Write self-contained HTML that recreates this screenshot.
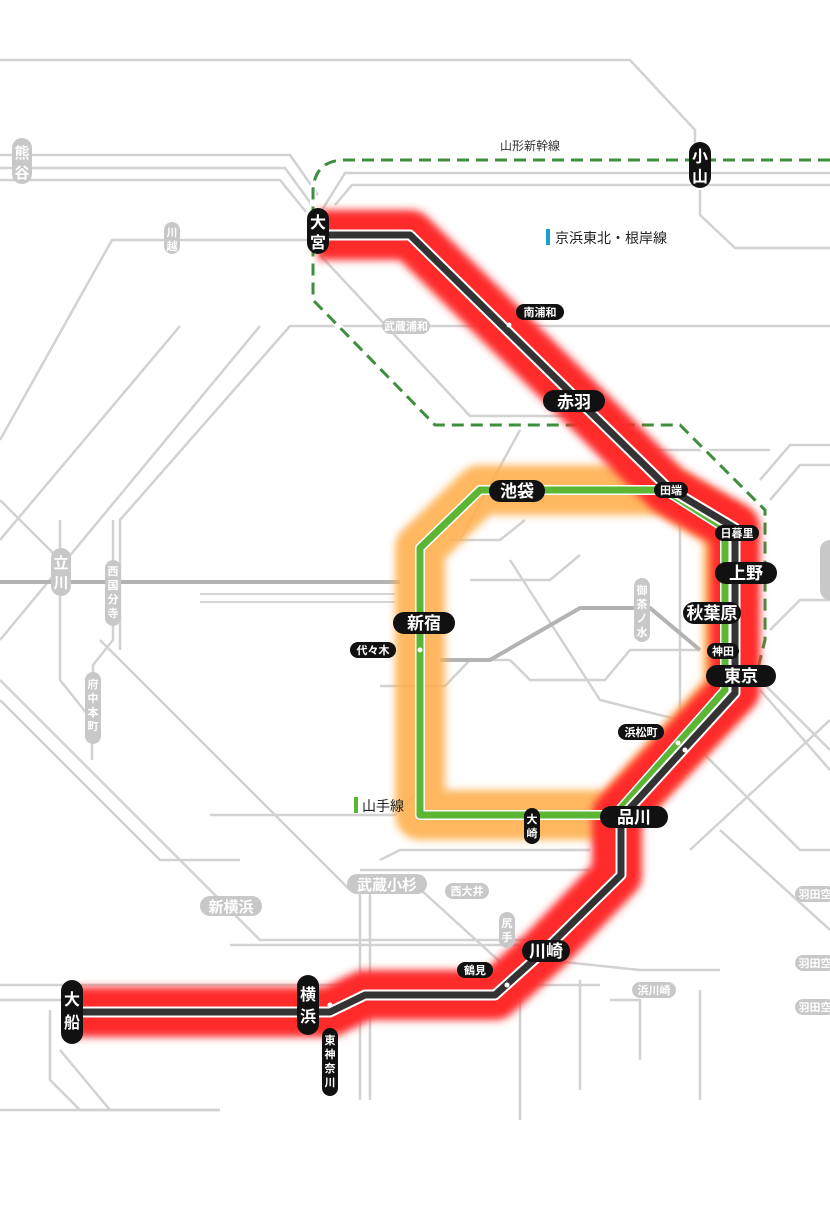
<!DOCTYPE html>
<html><head><meta charset="utf-8"><style>
html,body{margin:0;padding:0;background:#fff;}
svg text{font-family:"Liberation Sans","Noto Sans CJK JP",sans-serif;font-weight:bold;}
</style></head><body>
<svg width="830" height="1200" viewBox="0 0 830 1200" xmlns="http://www.w3.org/2000/svg">
<defs>
<filter id="blur" x="-20%" y="-20%" width="140%" height="140%"><feGaussianBlur stdDeviation="4"/></filter>
</defs>
<rect width="830" height="1200" fill="#fff"/>
<g fill="none" stroke="#d2d2d2" stroke-width="2.5" stroke-linejoin="round">
<path d="M0 60 H630 L695 130 V150"/>
<path d="M0 155 H290 L318 195"/>
<path d="M0 168 H285 L312 205"/>
<path d="M0 180 H280 L306 212"/>
<path d="M335 205 L352 185 H830"/>
<path d="M322 210 L345 173 H830"/>
<path d="M700 190 V215 L735 248 H830"/>
<path d="M0 440 L112 240 H310"/>
<path d="M320 255 L470 416 H600"/>
<path d="M120 650 V520 L290 326 H830"/>
<path d="M0 540 L180 326"/>
<path d="M0 640 L260 326"/>
<path d="M0 680 L260 940 H560"/>
<path d="M0 500 L60 560"/>
<path d="M60 520 V680 L92 720 V760"/>
<path d="M113 520 V640 L93 665 V740"/>
<path d="M0 700 L160 860 H240"/>
<path d="M100 640 L350 890"/>
<path d="M210 815 H395 L420 790"/>
<path d="M380 686 H445 L470 660 H510"/>
<path d="M450 540 H500 L525 520"/>
<path d="M470 580 H550 L580 555"/>
<path d="M510 660 L530 680 H605 L630 650 H700"/>
<path d="M510 560 L600 700 L680 720"/>
<path d="M460 540 L520 430"/>
<path d="M680 520 V720"/>
<path d="M600 450 H770"/>
<path d="M760 480 L790 445 H830"/>
<path d="M770 500 L800 465 H830"/>
<path d="M770 630 L800 600 H830"/>
<path d="M760 680 L830 750"/>
<path d="M760 690 L830 770"/>
<path d="M690 850 L830 720"/>
<path d="M700 750 L800 850 H830"/>
<path d="M720 830 L830 930"/>
<path d="M560 850 H590"/>
<path d="M360 870 H590"/>
<path d="M370 880 V1100"/>
<path d="M360 890 V1100"/>
<path d="M380 860 L400 850 H590"/>
<path d="M410 880 L520 980"/>
<path d="M0 985 H600"/>
<path d="M0 1000 H300"/>
<path d="M230 945 H520"/>
<path d="M50 1010 V1080 L80 1110 H220"/>
<path d="M60 1050 L110 1110"/>
<path d="M520 1000 V1120"/>
<path d="M580 980 V1090"/>
<path d="M610 1000 H640 V1060"/>
<path d="M545 960 L640 970 H720"/>
<path d="M700 990 V1100"/>
<path d="M0 1110 H220"/>
</g>
<g fill="none" stroke="#b3b3b3" stroke-width="4">
<path d="M0 582 H400"/>
<path d="M440 660 H490 L580 608 H650 L700 650"/>
</g>
<g fill="none" stroke="#d6d6d6" stroke-width="2">
<path d="M200 594 H395"/><path d="M200 602 H395"/>
</g>
<path d="M830 160 H345 Q315 160 313 190 V300 L435 425 H680 L765 510 V640 L758 668" fill="none" stroke="#fff" stroke-width="6"/>
<path d="M830 160 H345 Q315 160 313 190 V300 L435 425 H680 L765 510 V640 L758 668" fill="none" stroke="#3d8f3d" stroke-width="3" stroke-dasharray="12 7"/>
<path d="M480 490 H665 L728 528 V690 L615 815 H420 V548 Z" fill="none" stroke="#ffb050" stroke-width="50" stroke-linejoin="round" filter="url(#blur)" opacity="0.9"/>
<path d="M318 235 H410 L578 400 L668 490 L735 528 V690 L617 815 V875 L545 950 L495 995 H365 L330 1012 H72" fill="none" stroke="#ff2a2a" stroke-width="50" stroke-linejoin="round" filter="url(#blur)"/>
<path d="M480 490 H665 L725 528 V690 L615 815 H420 V548 Z" fill="none" stroke="#fff" stroke-width="10" stroke-linejoin="round"/>
<path d="M480 490 H665 L725 528 V690 L615 815 H420 V548 Z" fill="none" stroke="#5db534" stroke-width="7" stroke-linejoin="round"/>
<path d="M318 235 H410 L578 400 L668 488 L735 528 V693 L621 818 V875 L545 950 L495 995 H365 L330 1012 H72" fill="none" stroke="#fff" stroke-width="11" stroke-linejoin="round"/>
<path d="M318 235 H410 L578 400 L668 488 L735 528 V693 L621 818 V875 L545 950 L495 995 H365 L330 1012 H72" fill="none" stroke="#333" stroke-width="7" stroke-linejoin="round"/>
<g fill="#fff"><circle cx="509" cy="325" r="2.5"/><circle cx="420" cy="650" r="2.5"/><circle cx="678" cy="743" r="2.5"/><circle cx="685" cy="750" r="2.5"/><circle cx="507" cy="985" r="2.5"/><circle cx="330" cy="1005" r="2.5"/></g>
<g fill="#111">
<rect x="307" y="208" width="22" height="46" rx="11"/>
<rect x="689" y="142" width="22" height="46" rx="11"/>
<rect x="543" y="390" width="62" height="22" rx="11"/>
<rect x="489" y="480" width="56" height="22" rx="11"/>
<rect x="715" y="562" width="62" height="22" rx="11"/>
<rect x="706" y="665" width="70" height="22" rx="11"/>
<rect x="393" y="612" width="62" height="22" rx="11"/>
<rect x="600" y="806" width="68" height="22" rx="11"/>
<rect x="522" y="940" width="48" height="22" rx="11"/>
<rect x="297" y="975" width="22" height="60" rx="11"/>
<rect x="61" y="980" width="22" height="64" rx="11"/>
<rect x="683" y="602" width="58" height="22" rx="11"/>
</g>
<g fill="#111">
<rect x="516" y="304" width="48" height="16" rx="8"/>
<rect x="654" y="482" width="34" height="16" rx="8"/>
<rect x="715" y="525" width="44" height="16" rx="8"/>
<rect x="707" y="643" width="32" height="16" rx="8"/>
<rect x="350" y="642" width="46" height="16" rx="8"/>
<rect x="618" y="724" width="46" height="16" rx="8"/>
<rect x="524" y="808" width="16" height="36" rx="8"/>
<rect x="457" y="962" width="36" height="16" rx="8"/>
<rect x="322" y="1028" width="16" height="68" rx="8"/>
</g>
<g fill="#fff" font-size="17" text-anchor="middle">
<text x="574" y="408">赤羽</text>
<text x="517" y="497">池袋</text>
<text x="746" y="579">上野</text>
<text x="741" y="682">東京</text>
<text x="424" y="629">新宿</text>
<text x="634" y="823">品川</text>
<text x="546" y="957">川崎</text>
<text x="712" y="619">秋葉原</text>
</g>
<g fill="#fff" font-size="16" text-anchor="middle">
<text x="318" y="228">大</text><text x="318" y="248">宮</text>
<text x="700" y="162">小</text><text x="700" y="182">山</text>
<text x="308" y="1000">横</text><text x="308" y="1022">浜</text>
<text x="72" y="1005">大</text><text x="72" y="1028">船</text>
</g>
<g fill="#fff" font-size="11" text-anchor="middle">
<text x="540" y="316">南浦和</text>
<text x="671" y="494">田端</text>
<text x="737" y="537">日暮里</text>
<text x="723" y="655">神田</text>
<text x="373" y="654">代々木</text>
<text x="641" y="736">浜松町</text>
<text x="532" y="823">大</text><text x="532" y="837">崎</text>
<text x="475" y="974">鶴見</text>
<text x="330" y="1044">東</text><text x="330" y="1058">神</text><text x="330" y="1072">奈</text><text x="330" y="1086">川</text>
</g>
<g fill="#c8c8c8">
<rect x="12" y="138" width="20" height="46" rx="10"/>
<rect x="164" y="222" width="16" height="32" rx="8"/>
<rect x="382" y="318" width="48" height="16" rx="8"/>
<rect x="51" y="548" width="20" height="48" rx="10"/>
<rect x="105" y="560" width="16" height="66" rx="8"/>
<rect x="85" y="672" width="16" height="72" rx="8"/>
<rect x="634" y="578" width="16" height="64" rx="8"/>
<rect x="347" y="874" width="80" height="20" rx="10"/>
<rect x="445" y="883" width="44" height="16" rx="8"/>
<rect x="200" y="896" width="62" height="20" rx="10"/>
<rect x="499" y="912" width="16" height="36" rx="8"/>
<rect x="632" y="982" width="44" height="16" rx="8"/>
<rect x="795" y="886" width="40" height="16" rx="8"/>
<rect x="795" y="955" width="40" height="16" rx="8"/>
<rect x="795" y="999" width="40" height="16" rx="8"/>
<rect x="820" y="540" width="20" height="60" rx="10"/>
</g>
<g fill="#fff" font-size="11" text-anchor="middle">
<text x="406" y="330">武蔵浦和</text>
<text x="172" y="236">川</text><text x="172" y="250">越</text>
<text x="113" y="575">西</text><text x="113" y="589">国</text><text x="113" y="603">分</text><text x="113" y="617">寺</text>
<text x="93" y="688">府</text><text x="93" y="702">中</text><text x="93" y="716">本</text><text x="93" y="730">町</text>
<text x="642" y="594">御</text><text x="642" y="608">茶</text><text x="642" y="622">ノ</text><text x="642" y="636">水</text>
<text x="467" y="895">西大井</text>
<text x="507" y="927">尻</text><text x="507" y="941">手</text>
<text x="654" y="994">浜川崎</text>
<text x="815" y="898">羽田空</text><text x="815" y="967">羽田空</text><text x="815" y="1011">羽田空</text>
</g>
<g fill="#fff" font-size="15" text-anchor="middle">
<text x="22" y="158">熊</text><text x="22" y="178">谷</text>
<text x="61" y="568">立</text><text x="61" y="588">川</text>
<text x="387" y="890">武蔵小杉</text>
<text x="231" y="912">新横浜</text>
</g>
<text x="530" y="150" font-size="12" fill="#333" text-anchor="middle" style="font-weight:normal">山形新幹線</text>
<rect x="546" y="229" width="4" height="16" fill="#1aa0c8"/>
<text x="555" y="243" font-size="14" fill="#222" style="font-weight:normal">京浜東北・根岸線</text>
<rect x="354" y="797" width="4" height="16" fill="#5db534"/>
<text x="362" y="811" font-size="14" fill="#222" style="font-weight:normal">山手線</text>
</svg>
</body></html>
